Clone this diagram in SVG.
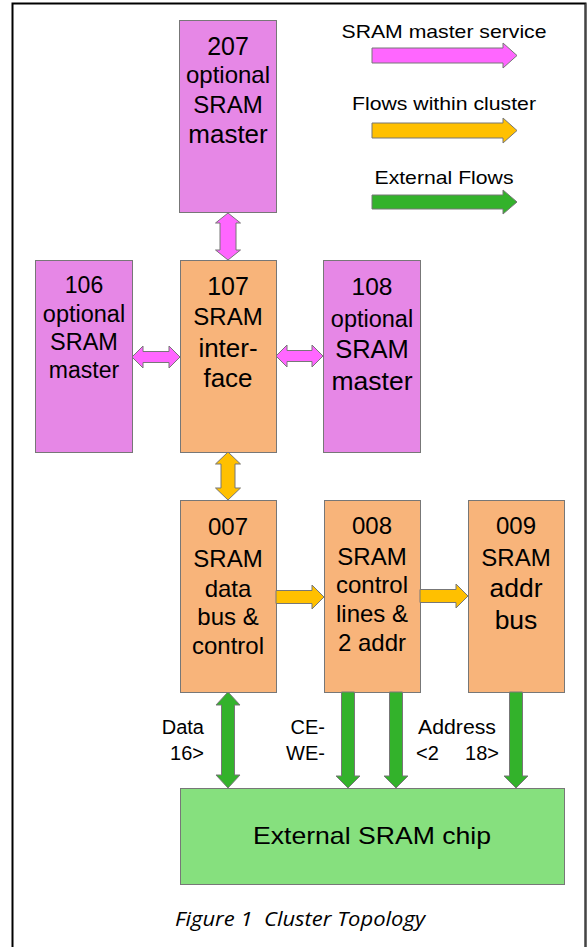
<svg xmlns="http://www.w3.org/2000/svg" width="587" height="947" viewBox="0 0 587 947">
<style>
  .t { font-family: "Liberation Sans", Arial, sans-serif; fill: #000; text-anchor: middle; }
  .pk { fill: #E687E6; stroke: #777; stroke-width: 1; }
  .or { fill: #F8B47A; stroke: #777; stroke-width: 1; }
  .gr { fill: #86E07E; stroke: #777; stroke-width: 1; }
  .ap { fill: #FF66FF; stroke: #777; stroke-width: 1; }
  .ao { fill: #FFC000; stroke: #777; stroke-width: 1; }
  .ag { fill: #33B22B; stroke: #777; stroke-width: 1; }
  .lbl { font-family: "Liberation Sans", Arial, sans-serif; font-size: 20px; fill: #000; }
</style>
<rect width="587" height="947" fill="#fff"/>
<!-- frame -->
<path d="M12.5,947 V3.5 H585.5 V947" fill="none" stroke="#000" stroke-width="2"/>
<path d="M585.5,3.5 V947" fill="none" stroke="#444" stroke-width="1.5"/>

<!-- legend -->
<g id="legend">
  <text class="t" x="444" y="38" font-size="19" textLength="205" lengthAdjust="spacingAndGlyphs">SRAM master service</text>
  <polygon class="ap" points="372,48 503,48 503,43 517,55.5 503,68 503,63 372,63"/>
  <text class="t" x="444" y="110" font-size="19" textLength="184" lengthAdjust="spacingAndGlyphs">Flows within cluster</text>
  <polygon class="ao" points="372,123 503,123 503,118 517,130.5 503,143 503,138 372,138"/>
  <text class="t" x="444" y="184" font-size="19" textLength="139" lengthAdjust="spacingAndGlyphs">External Flows</text>
  <polygon class="ag" points="372,195 503,195 503,190 517,202 503,214 503,209 372,209"/>
</g>

<!-- nodes -->
<g id="n207">
  <rect class="pk" x="179.5" y="20.5" width="97" height="192"/>
  <text class="t" x="228" y="55" font-size="25">207</text>
  <text class="t" x="228" y="83" font-size="24">optional</text>
  <text class="t" x="228" y="113" font-size="24">SRAM</text>
  <text class="t" x="228" y="143" font-size="26">master</text>
</g>
<g id="n106">
  <rect class="pk" x="35.5" y="260.5" width="97" height="192"/>
  <text class="t" x="84" y="293" font-size="23">106</text>
  <text class="t" x="84" y="322" font-size="23.5">optional</text>
  <text class="t" x="84" y="350" font-size="23.5">SRAM</text>
  <text class="t" x="84" y="378" font-size="23">master</text>
</g>
<g id="n107">
  <rect class="or" x="180.5" y="260.5" width="96" height="192"/>
  <text class="t" x="228" y="295" font-size="25">107</text>
  <text class="t" x="228" y="325" font-size="24">SRAM</text>
  <text class="t" x="228" y="357" font-size="26">inter-</text>
  <text class="t" x="228" y="387" font-size="26">face</text>
</g>
<g id="n108">
  <rect class="pk" x="323.5" y="260.5" width="97" height="192"/>
  <text class="t" x="372" y="295" font-size="24.5">108</text>
  <text class="t" x="372" y="327" font-size="23.5">optional</text>
  <text class="t" x="372" y="358" font-size="25.5">SRAM</text>
  <text class="t" x="372" y="390" font-size="26.5">master</text>
</g>
<g id="n007">
  <rect class="or" x="180.5" y="500.5" width="96" height="192"/>
  <text class="t" x="228" y="535" font-size="24">007</text>
  <text class="t" x="228" y="567" font-size="24">SRAM</text>
  <text class="t" x="228" y="597" font-size="24">data</text>
  <text class="t" x="228" y="625" font-size="24">bus &amp;</text>
  <text class="t" x="228" y="654" font-size="24">control</text>
</g>
<g id="n008">
  <rect class="or" x="324.5" y="500.5" width="96" height="192"/>
  <text class="t" x="372" y="534" font-size="24">008</text>
  <text class="t" x="372" y="565" font-size="24">SRAM</text>
  <text class="t" x="372" y="593" font-size="24">control</text>
  <text class="t" x="372" y="622" font-size="24">lines &amp;</text>
  <text class="t" x="372" y="651" font-size="24">2 addr</text>
</g>
<g id="n009">
  <rect class="or" x="468.5" y="500.5" width="96" height="192"/>
  <text class="t" x="516" y="534" font-size="24">009</text>
  <text class="t" x="516" y="566" font-size="24">SRAM</text>
  <text class="t" x="516" y="597" font-size="26.5">addr</text>
  <text class="t" x="516" y="629" font-size="26.5">bus</text>
</g>
<g id="chip">
  <rect class="gr" x="180.5" y="788.5" width="384" height="96"/>
  <text class="t" x="372" y="844" font-size="24" textLength="238" lengthAdjust="spacingAndGlyphs">External SRAM chip</text>
</g>

<!-- connectors -->
<g id="connectors">
  <polygon class="ap" points="228,213 240.5,223 236,223 236,250 240.5,250 228,260 215.5,250 220,250 220,223 215.5,223"/>
  <polygon class="ap" points="132,357 143,346 143,351.5 169,351.5 169,346 180,357 169,368 169,362.5 143,362.5 143,368"/>
  <polygon class="ap" points="276,356 287,345 287,350.5 312,350.5 312,345 323,356 312,367 312,361.5 287,361.5 287,367"/>
  <polygon class="ao" points="228,452 240.5,464 235,464 235,488 240.5,488 228,500 215.5,488 221,488 221,464 215.5,464"/>
  <polygon class="ao" points="276,590.5 312,590.5 312,585 324,597 312,609 312,603.5 276,603.5"/>
  <polygon class="ao" points="420,589.5 456,589.5 456,584 468,596 456,608 456,602.5 420,602.5"/>
  <polygon class="ag" points="228,692 240,705 234.5,705 234.5,775 240,775 228,788 216,775 221.5,775 221.5,705 216,705"/>
  <polygon class="ag" points="341.5,692 354.5,692 354.5,776 360,776 348,788 336,776 341.5,776"/>
  <polygon class="ag" points="389.5,692 402.5,692 402.5,776 408,776 396,788 384,776 389.5,776"/>
  <polygon class="ag" points="509.5,692 522.5,692 522.5,776 528,776 516,788 504,776 509.5,776"/>
</g>

<!-- connector labels -->
<g id="labels">
  <text class="lbl" x="204" y="734" text-anchor="end">Data</text>
  <text class="lbl" x="204" y="760" text-anchor="end">16&gt;</text>
  <text class="lbl" x="325" y="734" text-anchor="end">CE-</text>
  <text class="lbl" x="325" y="760" text-anchor="end">WE-</text>
  <text class="lbl" x="418" y="734" textLength="78" lengthAdjust="spacingAndGlyphs">Address</text>
  <text class="lbl" x="416" y="760">&lt;2</text>
  <text class="lbl" x="499" y="760" text-anchor="end">18&gt;</text>
</g>

<text x="175" y="926" xml:space="preserve" style="white-space:pre" font-family="'Open Sans', 'Liberation Sans', sans-serif" font-style="italic" font-size="20" textLength="250" lengthAdjust="spacingAndGlyphs" fill="#000">Figure 1  Cluster Topology</text>
</svg>
